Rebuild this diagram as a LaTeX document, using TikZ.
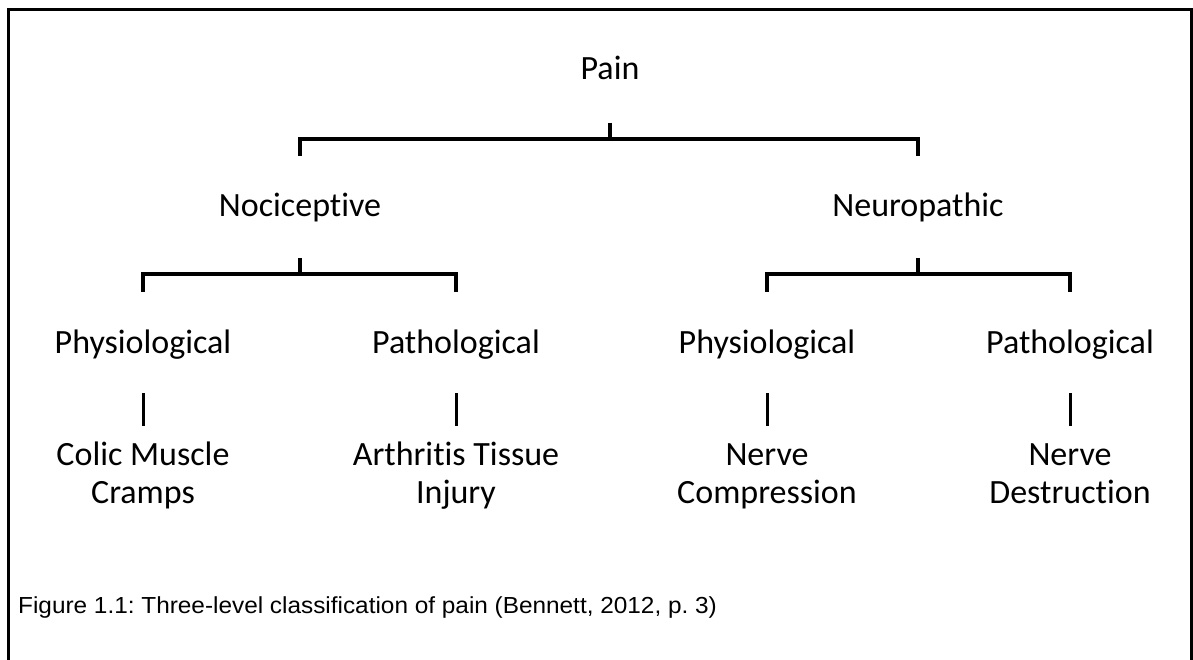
\documentclass[tikz,border=0pt]{standalone}
\usepackage{fontspec}
\setmainfont{Carlito}[Ligatures=NoCommon]
\newfontfamily\captionfont{Liberation Sans}[FakeStretch=1.05]
\usepackage{tikz}
\usetikzlibrary{positioning, calc}
\frenchspacing

\begin{document}
\begin{tikzpicture}[
        x=1pt, y=-1pt,
        lbl/.style={inner sep=0pt, anchor=base, font=\fontsize{34}{38}\selectfont, align=center},
        conn/.style={line width=3.2pt},
        bar/.style={line width=3pt},
        frame/.style={line width=3pt}
    ]
        \useasboundingbox (0,0) rectangle (1193,660);
        % ramka (otwarta u dołu)
        \draw[frame] (8,680) -- (8,10) -- (1191,10) -- (1191,680);

        % poziom 1
        \node[lbl] (pain) at (610,80) {Pain};
        % poziom 2
        \node[lbl] (noci) at (300,217) {Nociceptive};
        \node[lbl] (neuro) at (918,217) {Neuropathic};
        % poziom 3
        \node[lbl] (physA) at (143,353) {Physiological};
        \node[lbl] (pathA) at (456,353) {Pathological};
        \node[lbl] (physB) at (767,353) {Physiological};
        \node[lbl] (pathB) at (1070,353) {Pathological};
        % poziom 4 (base = ostatnia linia)
        \node[lbl] (colic) at (143,503) {Colic Muscle\\Cramps};
        \node[lbl] (arthr) at (456,503) {Arthritis Tissue\\Injury};
        \node[lbl] (compr) at (767,503) {Nerve\\Compression};
        \node[lbl] (destr) at (1070,503) {Nerve\\Destruction};

        % Pain -> Nociceptive / Neuropathic
        \draw[conn] (pain.base) ++(0,43) -- ++(0,16) coordinate (pj);
        \draw[conn] (noci.base) ++(0,-61) |- (pj) -| ($(neuro.base)+(0,-61)$);
        % Nociceptive -> Physiological / Pathological
        \draw[conn] (noci.base) ++(0,41) -- ++(0,16) coordinate (nj);
        \draw[conn] (physA.base) ++(0,-61) |- (nj) -| ($(pathA.base)+(0,-61)$);
        % Neuropathic -> Physiological / Pathological
        \draw[conn] (neuro.base) ++(0,41) -- ++(0,16) coordinate (ej);
        \draw[conn] (physB.base) ++(0,-61) |- (ej) -| ($(pathB.base)+(0,-61)$);
        % poziom 3 -> poziom 4
        \draw[bar] (physA.base) ++(0,40) -- ++(0,33);
        \draw[bar] (pathA.base) ++(0,40) -- ++(0,33);
        \draw[bar] (physB.base) ++(0,40) -- ++(0,33);
        \draw[bar] (pathB.base) ++(0,40) -- ++(0,33);

        % podpis
        \node[inner sep=0pt, anchor=base west, font=\captionfont\fontsize{23.2}{28}\selectfont] (cap) at (18,613)
            {Figure 1.1: Three-level classification of pain (Bennett, 2012, p. 3)};
    \end{tikzpicture}
\end{document}
